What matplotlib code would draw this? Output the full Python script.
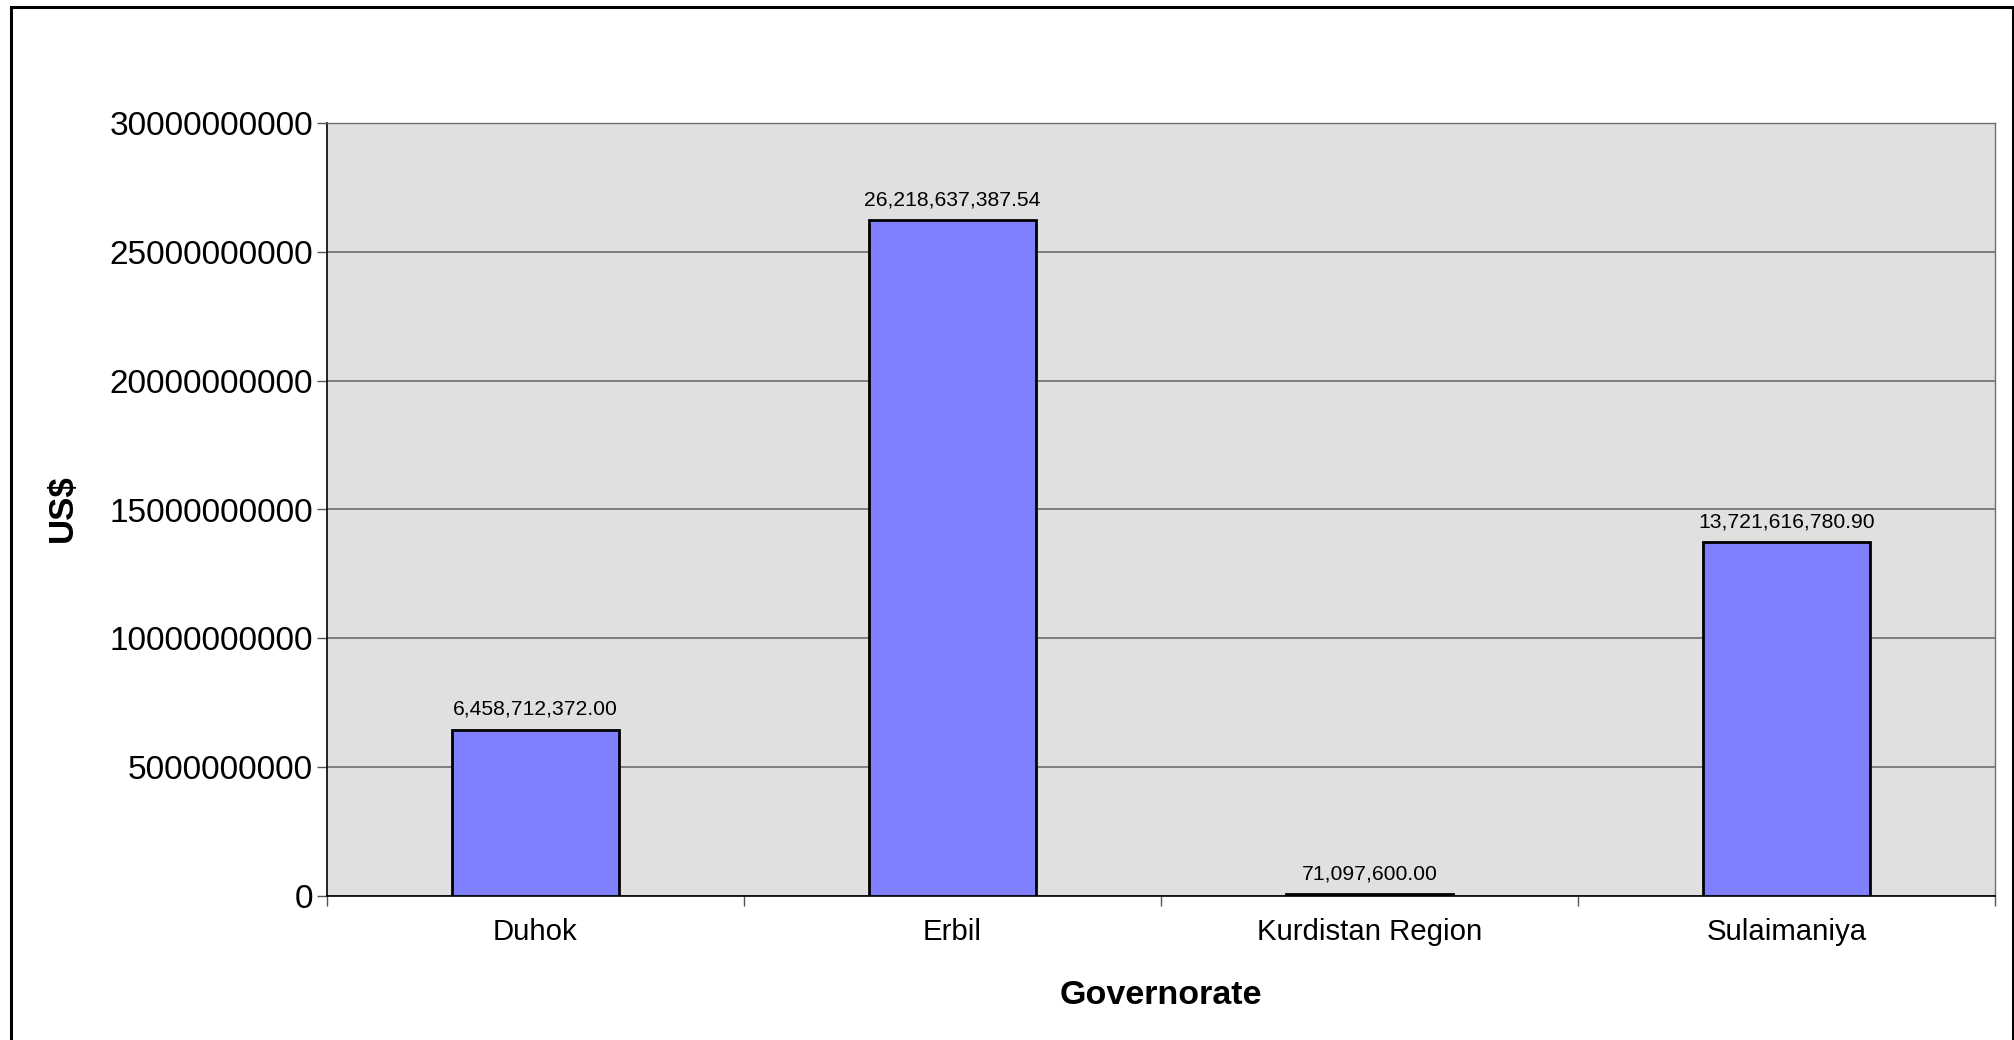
import matplotlib
matplotlib.use("Agg")
import matplotlib.pyplot as plt
from matplotlib.patches import Rectangle
import numpy as np

categories = ["Duhok", "Erbil", "Kurdistan Region", "Sulaimaniya"]
values = [6458712372.00, 26218637387.54, 71097600.00, 13721616780.90]
yticks = [0, 5000000000, 10000000000, 15000000000, 20000000000, 25000000000, 30000000000]

plt.rcParams['font.family'] = ['Liberation Sans', 'DejaVu Sans']

W, H = 2015, 1040
fig = plt.figure(figsize=(W / 100, H / 100), dpi=100)
fig.patch.set_facecolor('white')

left, right, top, bottom = 327, 1995, 123, 896
ax = fig.add_axes([left / W, 1 - bottom / H, (right - left) / W, (bottom - top) / H])
ax.set_facecolor('#E0E0E0')

x = np.arange(len(categories))
bars = ax.bar(x, values, width=0.4, color='#8080FF', edgecolor='black', linewidth=2.0, zorder=3)

ax.set_xlim(-0.5, len(categories) - 0.5)
ax.set_ylim(0, 30000000000)
ax.set_yticks(yticks)
ax.set_yticklabels([str(t) for t in yticks], fontsize=24)
ax.yaxis.grid(True, color='#6e6e6e', linewidth=1.2, zorder=1)
ax.set_axisbelow(True)
ax.tick_params(axis='y', length=7.2, width=1, color='#555555', pad=3)

ax.set_xticks(x)
ax.set_xticklabels(categories, fontsize=21.2)
ax.tick_params(axis='x', which='major', length=0, pad=16)
ax.set_xticks(np.arange(-0.5, len(categories), 1.0), minor=True)
ax.tick_params(axis='x', which='minor', length=7.2, width=1, color='#555555')

for side in ['top', 'right']:
    ax.spines[side].set_color('#707070')
    ax.spines[side].set_linewidth(1.0)
for side in ['left', 'bottom']:
    ax.spines[side].set_color('black')
    ax.spines[side].set_linewidth(1.2)

for xi, v in zip(x, values):
    ax.annotate(f"{v:,.2f}", xy=(xi, v), xytext=(0, 8), textcoords='offset points',
                ha='center', va='bottom', fontsize=15.2, zorder=4)

fig.text(62 / W, 1 - 508 / H, "US$", rotation=90, ha='center', va='center',
         fontsize=25, fontweight='bold')
fig.text(1161 / W, 1 - 996 / H, "Governorate", ha='center', va='center',
         fontsize=24.5, fontweight='bold')

# outer frame
fig.patches.append(Rectangle((11 / W, -0.02), (2013 - 11) / W, 1.02 - 7 / H,
                             transform=fig.transFigure, fill=False,
                             edgecolor='black', linewidth=2.2))

fig.savefig("out.png", dpi=100, facecolor='white')
